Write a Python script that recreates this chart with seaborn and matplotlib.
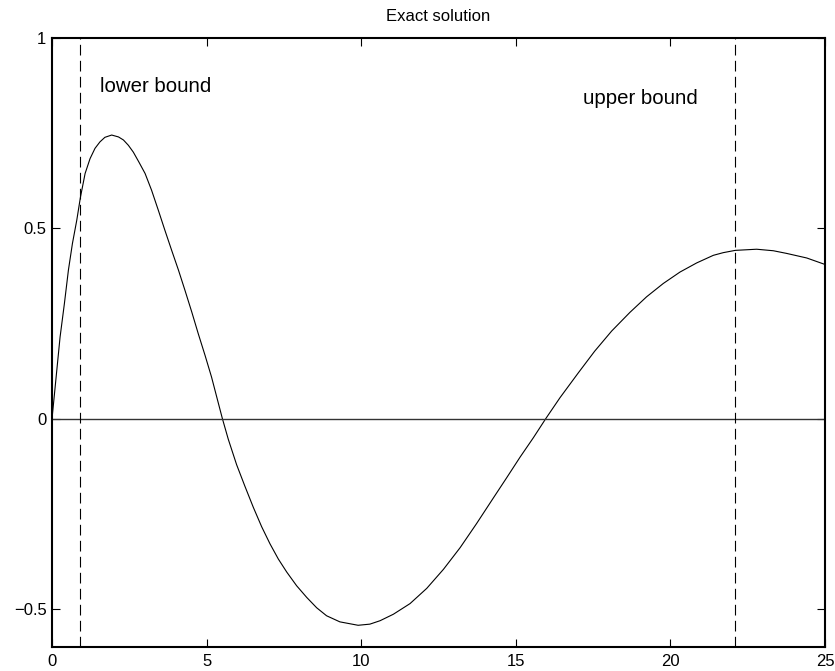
import matplotlib
matplotlib.use("Agg")
import matplotlib.pyplot as plt
import seaborn as sns
import pandas as pd

# ---- Data ----
x_vals = [0.0, 0.10, 0.26, 0.40, 0.53, 0.66, 0.80, 0.92, 1.07, 1.23, 1.39,
          1.55, 1.71, 1.93, 2.15, 2.31, 2.47, 2.63, 2.81, 3.01, 3.22, 3.44,
          3.65, 3.87, 4.09, 4.30, 4.52, 4.73, 4.95, 5.16, 5.33, 5.51, 5.70,
          5.97, 6.24, 6.51, 6.78, 7.05, 7.32, 7.59, 7.91, 8.24, 8.56, 8.88,
          9.31, 9.90, 10.28, 10.61, 11.04, 11.58, 12.12, 12.66, 13.20, 13.73,
          14.27, 14.70, 15.14, 15.57, 15.97, 16.43, 17.02, 17.55, 18.10,
          18.69, 19.23, 19.77, 20.31, 20.85, 21.39, 21.71, 22.10, 22.79,
          23.33, 23.76, 24.41, 25.0]
y_vals = [0.0, 0.082, 0.214, 0.302, 0.39, 0.46, 0.521, 0.582, 0.644, 0.683,
          0.71, 0.727, 0.739, 0.745, 0.740, 0.732, 0.718, 0.70, 0.674, 0.644,
          0.60, 0.547, 0.495, 0.442, 0.39, 0.337, 0.28, 0.223, 0.166, 0.109,
          0.056, 0.0, -0.054, -0.121, -0.178, -0.233, -0.284, -0.329, -0.369,
          -0.403, -0.439, -0.47, -0.497, -0.518, -0.534, -0.543, -0.540,
          -0.531, -0.514, -0.486, -0.446, -0.396, -0.339, -0.276, -0.209,
          -0.156, -0.101, -0.050, 0.0, 0.055, 0.120, 0.177, 0.230, 0.279,
          0.320, 0.355, 0.385, 0.409, 0.429, 0.436, 0.442, 0.445, 0.441,
          0.434, 0.422, 0.405]
lower_bound = 0.92
upper_bound = 22.10
x_ticks = [0, 5, 10, 15, 20, 25]
y_ticks = [-0.5, 0, 0.5, 1]
y_tick_labels = ["\u22120.5", "0", "0.5", "1"]

df = pd.DataFrame({"x": x_vals, "y": y_vals})

# ---- Style ----
sns.set_style("ticks")
plt.rcParams["font.family"] = ["Liberation Sans", "DejaVu Sans"]
plt.rcParams["text.color"] = "black"

fig = plt.figure(figsize=(8.35, 6.71), dpi=100)
ax = fig.add_axes([0.0623, 0.0358, 0.9257, 0.9076])

sns.lineplot(data=df, x="x", y="y", color="black", linewidth=0.8, ax=ax,
             sort=False, estimator=None)

# zero line and bounds
ax.axhline(0, color="#333333", linewidth=1.0)
for b in [lower_bound, upper_bound]:
    ax.axvline(b, color="black", linewidth=0.8, linestyle=(0, (9.6, 4.8)))

ax.text(1.55, 0.857, "lower bound", fontsize=14.7, va="baseline", ha="left",
        color="black")
ax.text(17.18, 0.826, "upper bound", fontsize=14.7, va="baseline", ha="left",
        color="black")

ax.set_xlim(0, 25)
ax.set_ylim(-0.6, 1)
ax.set_xticks(x_ticks)
ax.set_xticklabels([str(t) for t in x_ticks])
ax.set_yticks(y_ticks)
ax.set_yticklabels(y_tick_labels)
ax.set_xlabel("")
ax.set_ylabel("")
ax.set_title("Exact solution", fontsize=12, pad=12, color="black")

ax.tick_params(direction="in", length=6, width=0.8, labelsize=12,
               top=True, right=True, colors="black")
ax.tick_params(axis="x", pad=5)
ax.tick_params(axis="y", pad=4)
for s in ax.spines.values():
    s.set_visible(True)
    s.set_linewidth(1.5)
    s.set_color("black")

fig.savefig("out.png", dpi=100)
